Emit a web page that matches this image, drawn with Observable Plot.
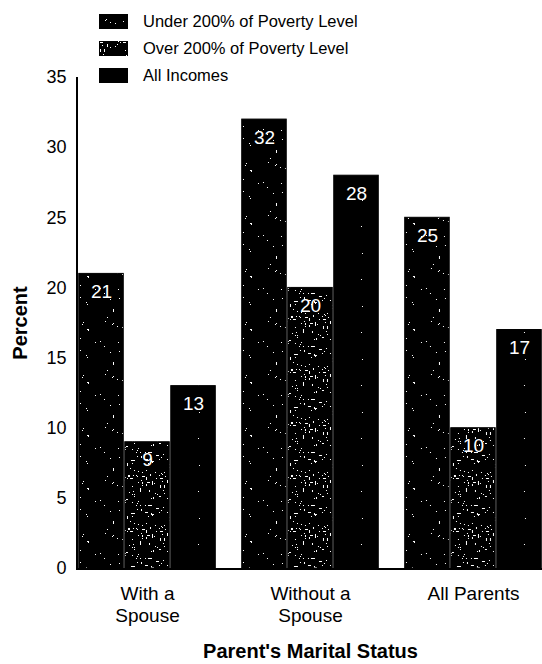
<!DOCTYPE html>
<html><head><meta charset="utf-8">
<script src="https://cdn.jsdelivr.net/npm/d3@7"></script>
<script src="https://cdn.jsdelivr.net/npm/@observablehq/plot@0.6"></script>
<style>
body{margin:0;background:#fff;font-family:Arial,"Liberation Sans",Helvetica,sans-serif;}
#wrap{position:relative;width:542px;height:664px;}
#legend{position:absolute;left:99px;top:8px;font-size:16.5px;color:#000;}
.row{display:flex;align-items:center;height:27px;}
.row svg{margin-right:15px;display:block}
</style></head><body>
<svg id="defs" width="0" height="0" style="position:absolute;left:0;top:0"><defs></defs></svg>
<div id="wrap"><div id="chart"></div><div id="legend"></div></div>
<script>
// ---- data ----
const groups = ["With a Spouse", "Without a Spouse", "All Parents"];
const groupLabels = ["With a\nSpouse", "Without a\nSpouse", "All Parents"];
const series = ["Under 200% of Poverty Level", "Over 200% of Poverty Level", "All Incomes"];
const underValues = [21, 32, 25];
const overValues = [9, 20, 10];
const allValues = [13, 28, 17];
const yTicks = [0, 5, 10, 15, 20, 25, 30, 35];
const axisTitleX = "Parent's Marital Status";
const axisTitleY = "Percent";

const seriesValues = [underValues, overValues, allValues];
const data = [];
series.forEach((s, si) => groups.forEach((g, gi) => data.push({group: g, series: s, value: seriesValues[si][gi]})));

// ---- speckle textures (decoration only) ----
const patternIds = ["pUnder", "pOver", "pAll"];
const patternDensity = [26, 95, 3];
const patternStreak = [0.15, 0.3, 0];
const defs = d3.select("#defs defs");
function rng(seed) { let s = seed >>> 0; return () => (s = (Math.imul(s, 1664525) + 1013904223) >>> 0) / 4294967296; }
patternIds.forEach((id, k) => {
  const r = rng(17 + k * 101);
  const size = 53;
  const pat = defs.append("pattern").attr("id", id).attr("patternUnits", "userSpaceOnUse")
    .attr("width", size).attr("height", size);
  pat.append("rect").attr("width", size).attr("height", size).attr("fill", "#000");
  for (let i = 0; i < patternDensity[k]; i++) {
    const streak = r() < patternStreak[k];
    const vert = r() < 0.5;
    const len = streak ? 2 + Math.floor(r() * 3) : 1;
    pat.append("rect").attr("x", Math.floor(r() * size)).attr("y", Math.floor(r() * size))
      .attr("width", vert ? 1 : len).attr("height", vert ? len : 1).attr("fill", "#fff");
  }
});
const fillFor = s => `url(#${patternIds[series.indexOf(s)]})`;

// ---- chart ----
const W = 542, H = 664, ML = 78, MT = 77, MB = 96;
const plot = Plot.plot({
  width: W, height: H,
  marginTop: MT, marginBottom: MB, marginLeft: ML, marginRight: 0,
  style: {fontFamily: "Arial, 'Liberation Sans', Helvetica, sans-serif", background: "white", color: "black", overflow: "visible"},
  fx: {domain: groups, paddingInner: 0.153, paddingOuter: 0, round: false},
  x: {domain: series, padding: 0, axis: null, round: false},
  y: {domain: [0, 35], axis: null},
  marks: [
    Plot.axisY({ticks: yTicks, tickSize: 0, tickPadding: 12, fontSize: 18, label: axisTitleY, labelAnchor: "center", labelOffset: 66, labelArrow: "none"}),
    Plot.axisFx({anchor: "bottom", tickSize: 0, tickPadding: 16, fontSize: 19, lineHeight: 1.15,
      tickFormat: g => groupLabels[groups.indexOf(g)], label: axisTitleX, labelAnchor: "center", labelOffset: 89, labelArrow: "none"}),
    ...series.map(s => Plot.barY(data.filter(d => d.series === s), {
      fx: "group", x: "series", y: "value", fill: fillFor(s), stroke: "#000", strokeWidth: 1,
      insetLeft: 0.75, insetRight: 0.75
    })),
    Plot.text(data, {fx: "group", x: "series", y: "value", text: d => String(d.value), dy: 18,
      fill: "white", fontSize: 19})
  ]
});
document.getElementById("chart").appendChild(plot);

// bold axis titles, axis line and baseline via the y scale
const svg = d3.select(plot);
svg.selectAll('[aria-label$="axis label"] text').attr("font-weight", "bold").attr("font-size", 20);
const ys = plot.scale("y");
svg.append("line").attr("x1", ML - 1).attr("x2", ML - 1).attr("y1", ys.apply(35)).attr("y2", ys.apply(0) + 1)
  .attr("stroke", "#000").attr("stroke-width", 2);
svg.append("line").attr("x1", ML - 2).attr("x2", W).attr("y1", ys.apply(0) + 1).attr("y2", ys.apply(0) + 1)
  .attr("stroke", "#000").attr("stroke-width", 2);

// ---- legend ----
const legend = d3.select("#legend");
series.forEach(s => {
  const row = legend.append("div").attr("class", "row");
  const sw = row.append("svg").attr("width", 29).attr("height", 15);
  sw.append("rect").attr("width", 29).attr("height", 15).attr("fill", fillFor(s));
  row.append("span").text(s);
});
</script>
</body></html>
